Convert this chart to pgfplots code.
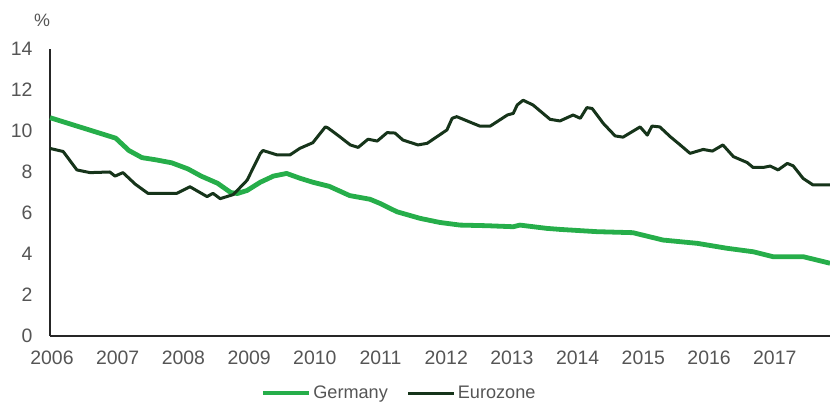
\documentclass[border=0pt]{standalone}
\usepackage{pgfplots}
\pgfplotsset{compat=1.18}
\usepackage{fontspec}
\setmainfont{Liberation Sans}
\definecolor{ger}{RGB}{38,174,74}
\definecolor{euro}{RGB}{22,52,26}
\definecolor{lbl}{RGB}{85,85,85}
\begin{document}
\begin{tikzpicture}
\useasboundingbox (0,0) rectangle (830bp,403bp);
\begin{axis}[
  at={(50bp,67bp)}, anchor=south west,
  scale only axis, width=780bp, height=287bp,
  xmin=2006, xmax=2017.87, ymin=0, ymax=14,
  axis x line=bottom, axis y line=left,
  axis line style={-, line width=1.6pt, color=black!85},
  xtick={2006,...,2017}, ytick={0,2,...,14},
  major tick length=0pt,
  xticklabel style={/pgf/number format/1000 sep={}},
  /pgf/number format/assume math mode=true,
  tick label style={font=\fontsize{19.5}{19.5}\selectfont, color=lbl},
  xticklabel style={yshift=-11bp, xshift=2bp},
  yticklabel style={xshift=-14bp},
  legend style={draw=none, fill=none, font=\fontsize{18.2}{18.2}\selectfont\color{lbl}, at={(349bp,-57bp)}, anchor=center, legend columns=2, inner sep=0pt, /tikz/every even column/.append style={column sep=17bp}},
  legend cell align=left,
  legend image code/.code={\draw[#1] (0bp,0bp) -- (46bp,0bp);},
  clip=false,
]
\addplot[color=ger, line width=4.8bp, line join=round] coordinates {
(2006.0,10.65) (2006.5,10.15) (2007.0,9.65) (2007.2,9.05) (2007.4,8.7) (2007.6,8.6) (2007.85,8.45) (2008.1,8.15) (2008.3,7.8) (2008.55,7.45) (2008.75,7.0) (2008.85,6.95) (2009.0,7.1) (2009.2,7.5) (2009.4,7.8) (2009.6,7.93) (2009.8,7.7) (2010.0,7.5) (2010.25,7.3) (2010.56,6.85) (2010.87,6.67) (2011.02,6.47) (2011.28,6.06) (2011.63,5.74) (2011.93,5.54) (2012.24,5.41) (2012.65,5.38) (2013.05,5.33) (2013.15,5.41) (2013.56,5.25) (2013.76,5.2) (2014.32,5.09) (2014.87,5.04) (2015.33,4.68) (2015.85,4.52) (2016.3,4.28) (2016.7,4.11) (2017.0,3.87) (2017.46,3.87) (2017.87,3.55)
};
\addlegendentry{Germany}
\addplot[color=euro, line width=3bp, line join=round] coordinates {
(2006.0,9.15) (2006.2,9.0) (2006.41,8.1) (2006.61,7.97) (2006.91,8.0) (2006.99,7.8) (2007.11,7.97) (2007.3,7.4) (2007.49,6.96) (2007.93,6.96) (2008.13,7.28) (2008.39,6.8) (2008.48,6.96) (2008.59,6.7) (2008.79,6.9) (2009.0,7.6) (2009.2,8.9) (2009.24,9.05) (2009.46,8.83) (2009.65,8.83) (2009.8,9.15) (2010.0,9.43) (2010.19,10.2) (2010.23,10.15) (2010.41,9.72) (2010.57,9.32) (2010.69,9.2) (2010.84,9.6) (2010.98,9.51) (2011.13,9.92) (2011.25,9.9) (2011.37,9.56) (2011.6,9.32) (2011.74,9.4) (2012.04,10.05) (2012.12,10.62) (2012.19,10.7) (2012.44,10.37) (2012.54,10.24) (2012.7,10.24) (2012.96,10.78) (2013.05,10.86) (2013.11,11.27) (2013.2,11.5) (2013.35,11.27) (2013.61,10.57) (2013.76,10.49) (2013.96,10.78) (2014.07,10.62) (2014.17,11.14) (2014.25,11.1) (2014.42,10.37) (2014.6,9.76) (2014.72,9.7) (2014.98,10.2) (2015.09,9.8) (2015.16,10.24) (2015.28,10.2) (2015.44,9.72) (2015.59,9.32) (2015.74,8.91) (2015.94,9.1) (2016.08,9.02) (2016.24,9.32) (2016.4,8.75) (2016.61,8.46) (2016.7,8.22) (2016.85,8.22) (2016.96,8.29) (2017.08,8.1) (2017.22,8.42) (2017.31,8.3) (2017.46,7.69) (2017.61,7.37) (2017.87,7.37)
};
\addlegendentry{Eurozone}
\node[font=\fontsize{18}{18}\selectfont, color=lbl, anchor=center] at ([xshift=-8bp,yshift=29bp]rel axis cs:0,1) {\%};
\end{axis}
\end{tikzpicture}
\end{document}
